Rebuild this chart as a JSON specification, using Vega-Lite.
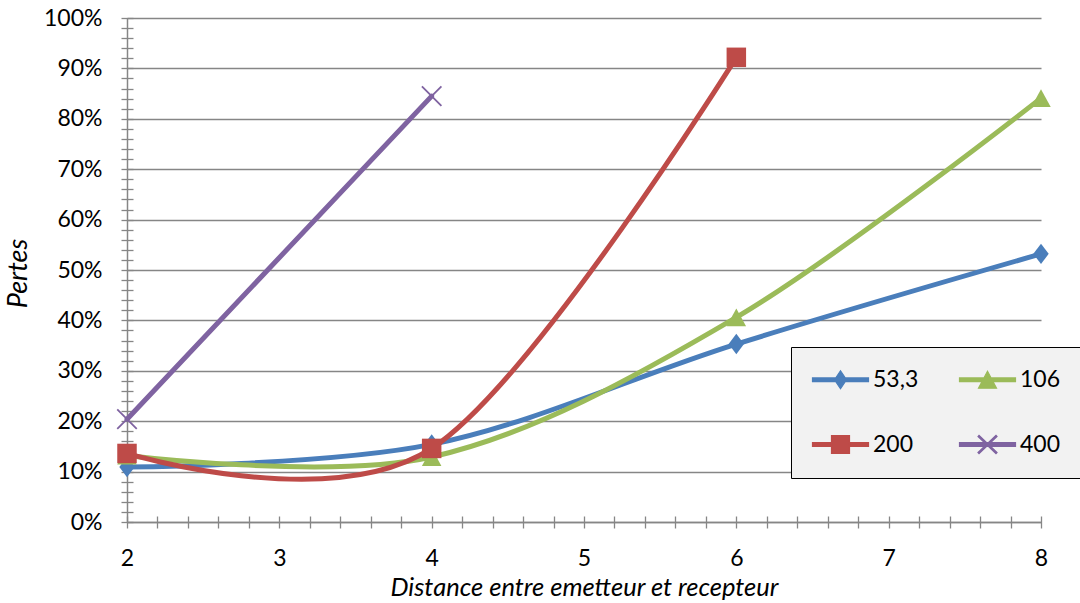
{
  "$schema": "https://vega.github.io/schema/vega-lite/v6.json",
  "width": 914,
  "height": 504,
  "autosize": {"type": "none"},
  "padding": {"left": 127, "top": 18, "right": 39, "bottom": 81},
  "background": "white",
  "config": {"view": {"stroke": null}, "font": "Lato"},
  "data": {
    "values": [
      {"series": "53,3", "distance": 2, "pertes": 0.109},
      {"series": "53,3", "distance": 4, "pertes": 0.154},
      {"series": "53,3", "distance": 6, "pertes": 0.353},
      {"series": "53,3", "distance": 8, "pertes": 0.532},
      {"series": "106", "distance": 2, "pertes": 0.132},
      {"series": "106", "distance": 4, "pertes": 0.129},
      {"series": "106", "distance": 6, "pertes": 0.406},
      {"series": "106", "distance": 8, "pertes": 0.841},
      {"series": "200", "distance": 2, "pertes": 0.136},
      {"series": "200", "distance": 4, "pertes": 0.146},
      {"series": "200", "distance": 6, "pertes": 0.922},
      {"series": "400", "distance": 2, "pertes": 0.204},
      {"series": "400", "distance": 4, "pertes": 0.845}
    ]
  },
  "encoding": {
    "color": {
      "field": "series",
      "type": "nominal",
      "scale": {
        "domain": ["53,3", "106", "200", "400"],
        "range": ["#4A7EBB", "#9BBB59", "#BE4B48", "#7F63A1"]
      },
      "legend": {
        "title": null,
        "orient": "none",
        "direction": "horizontal",
        "legendX": 664,
        "legendY": 329,
        "columns": 2,
        "symbolSize": 400,
        "symbolStrokeWidth": 1.2,
        "symbolOpacity": 1,
        "labelOffset": 38,
        "labelFont": "Lato",
        "labelFontSize": 23,
        "labelColor": "#000000",
        "padding": 21,
        "rowPadding": 41,
        "columnPadding": 38,
        "fillColor": "#F2F2F2",
        "strokeColor": "#000000",
        "cornerRadius": 0
      }
    }
  },
  "layer": [
    {
      "mark": {"type": "point", "filled": true, "opacity": 0, "size": 400},
      "encoding": {
        "x": {
          "field": "distance",
          "type": "quantitative",
          "scale": {"domain": [2, 8], "nice": false, "zero": false},
          "axis": {
            "orient": "bottom",
            "values": [2, 3, 4, 5, 6, 7, 8],
            "grid": false,
            "ticks": false,
            "domain": true,
            "domainColor": "#868686",
            "domainWidth": 1.5,
            "labelFont": "Lato",
            "labelFontSize": 23,
            "labelColor": "#000000",
            "labelPadding": 25,
            "labelFlush": false,
            "title": "Distance entre emetteur et recepteur",
            "titleFont": "Lato",
            "titleFontStyle": "italic",
            "titleFontWeight": "normal",
            "titleFontSize": 25.5,
            "titleColor": "#000000",
            "titleBaseline": "alphabetic",
            "titleX": 457,
            "titleY": 73
          }
        },
        "y": {
          "field": "pertes",
          "type": "quantitative",
          "scale": {"domain": [0, 1], "nice": false},
          "axis": {
            "orient": "left",
            "values": [0, 0.1, 0.2, 0.3, 0.4, 0.5, 0.6, 0.7, 0.8, 0.9, 1],
            "format": ".0%",
            "grid": true,
            "gridColor": "#868686",
            "gridWidth": 1.3,
            "ticks": false,
            "domain": true,
            "domainColor": "#868686",
            "domainWidth": 1.5,
            "labelFont": "Lato",
            "labelFontSize": 23,
            "labelColor": "#000000",
            "labelPadding": 25,
            "labelFlush": false,
            "title": "Pertes",
            "titleFont": "Lato",
            "titleFontStyle": "italic",
            "titleFontWeight": "normal",
            "titleFontSize": 27,
            "titleColor": "#000000",
            "titleBaseline": "alphabetic",
            "titleAngle": -90,
            "titleX": -101,
            "titleY": 255
          }
        },
        "shape": {
          "field": "series",
          "type": "nominal",
          "scale": {
            "domain": ["53,3", "106", "200", "400"],
            "range": [
              "M-1.1,-0.18L4.5,-0.18L4.5,0.18L-1.1,0.18Z M1.1,0L1.7,-0.9L2.3,0L1.7,0.9Z",
              "M-1.1,-0.18L4.5,-0.18L4.5,0.18L-1.1,0.18Z M1.7,-0.85L2.6,0.85L0.8,0.85Z",
              "M-1.1,-0.18L4.5,-0.18L4.5,0.18L-1.1,0.18Z M0.8,-0.9L2.6,-0.9L2.6,0.9L0.8,0.9Z",
              "M-1.1,-0.18L4.5,-0.18L4.5,0.18L-1.1,0.18Z M0.748,-0.795L0.852,-0.905L2.652,0.795L2.548,0.905Z M0.852,0.905L0.748,0.795L2.548,-0.905L2.652,-0.795Z"
            ]
          },
          "legend": {"title": null}
        }
      }
    },
    {
      "mark": {"type": "line", "interpolate": "cardinal", "tension": 0, "strokeWidth": 5, "strokeCap": "round", "strokeJoin": "round"},
      "encoding": {
        "x": {
          "field": "distance",
          "type": "quantitative",
          "scale": {"domain": [2, 8], "nice": false, "zero": false},
          "axis": {
            "orient": "bottom",
            "values": [2, 2.2, 2.4, 2.6, 2.8, 3, 3.2, 3.4, 3.6, 3.8, 4, 4.2, 4.4, 4.6, 4.8, 5, 5.2, 5.4, 5.6, 5.8, 6, 6.2, 6.4, 6.6, 6.8, 7, 7.2, 7.4, 7.6, 7.8, 8],
            "grid": false,
            "domain": false,
            "labels": false,
            "ticks": true,
            "tickSize": 12,
            "tickColor": "#868686",
            "tickWidth": 1.3,
            "offset": -6,
            "title": null
          }
        },
        "y": {
          "field": "pertes",
          "type": "quantitative",
          "scale": {"domain": [0, 1], "nice": false},
          "axis": {
            "orient": "left",
            "values": [0, 0.02, 0.04, 0.06, 0.08, 0.1, 0.12, 0.14, 0.16, 0.18, 0.2, 0.22, 0.24, 0.26, 0.28, 0.3, 0.32, 0.34, 0.36, 0.38, 0.4, 0.42, 0.44, 0.46, 0.48, 0.5, 0.52, 0.54, 0.56, 0.58, 0.6, 0.62, 0.64, 0.66, 0.68, 0.7, 0.72, 0.74, 0.76, 0.78, 0.8, 0.82, 0.84, 0.86, 0.88, 0.9, 0.92, 0.94, 0.96, 0.98, 1],
            "grid": false,
            "domain": false,
            "labels": false,
            "ticks": true,
            "tickSize": 12,
            "tickColor": "#868686",
            "tickWidth": 1.3,
            "offset": -6,
            "title": null
          }
        }
      }
    },
    {
      "transform": [{"filter": "datum.series === '53,3'"}],
      "mark": {"type": "point", "filled": true, "opacity": 1, "size": 420, "shape": "M0,-1L0.75,0L0,1L-0.75,0Z"},
      "encoding": {
        "x": {"field": "distance", "type": "quantitative", "scale": {"domain": [2, 8], "nice": false, "zero": false}, "axis": null},
        "y": {"field": "pertes", "type": "quantitative", "scale": {"domain": [0, 1], "nice": false}, "axis": null}
      }
    },
    {
      "transform": [{"filter": "datum.series === '106'"}],
      "mark": {"type": "point", "filled": true, "opacity": 1, "size": 380, "shape": "M0,-0.92L1,0.92L-1,0.92Z"},
      "encoding": {
        "x": {"field": "distance", "type": "quantitative", "scale": {"domain": [2, 8], "nice": false, "zero": false}, "axis": null},
        "y": {"field": "pertes", "type": "quantitative", "scale": {"domain": [0, 1], "nice": false}, "axis": null}
      }
    },
    {
      "transform": [{"filter": "datum.series === '200'"}],
      "mark": {"type": "point", "filled": true, "opacity": 1, "size": 380, "shape": "square"},
      "encoding": {
        "x": {"field": "distance", "type": "quantitative", "scale": {"domain": [2, 8], "nice": false, "zero": false}, "axis": null},
        "y": {"field": "pertes", "type": "quantitative", "scale": {"domain": [0, 1], "nice": false}, "axis": null}
      }
    },
    {
      "transform": [{"filter": "datum.series === '400'"}],
      "mark": {"type": "point", "filled": false, "opacity": 1, "size": 380, "strokeWidth": 1.8, "shape": "M-1,-1L1,1M-1,1L1,-1"},
      "encoding": {
        "x": {"field": "distance", "type": "quantitative", "scale": {"domain": [2, 8], "nice": false, "zero": false}, "axis": null},
        "y": {"field": "pertes", "type": "quantitative", "scale": {"domain": [0, 1], "nice": false}, "axis": null}
      }
    }
  ],
  "resolve": {"axis": {"x": "independent", "y": "independent"}}
}
